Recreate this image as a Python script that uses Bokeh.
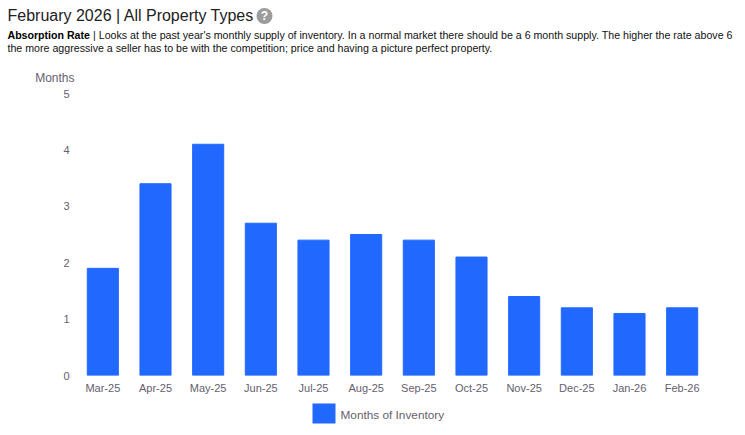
from bokeh.plotting import figure
from bokeh.layouts import column
from bokeh.models import Range1d, FactorRange
from bokeh.core.properties import value
from bokeh.embed import file_html
from bokeh.resources import INLINE

categories = ["Mar-25","Apr-25","May-25","Jun-25","Jul-25","Aug-25","Sep-25","Oct-25","Nov-25","Dec-25","Jan-26","Feb-26"]
months_of_inventory = [1.9,3.4,4.1,2.7,2.4,2.5,2.4,2.1,1.4,1.2,1.1,1.2]
y_ticks = [0,1,2,3,4,5]
series_name = "Months of Inventory"
title = "February 2026 | All Property Types"
bold_lead = "Absorption Rate"
line1 = "| Looks at the past year's monthly supply of inventory. In a normal market there should be a 6 month supply. The higher the rate above 6"
line2 = "the more aggressive a seller has to be with the competition; price and having a picture perfect property."
y_title = "Months"

W = 745
HEAD_H, MAIN_H, FOOT_H = 86, 314, 35
FONT = "Liberation Sans"
TICK = "#65606e"
BLUE = "#2168ff"

def blank(h, y0):
    f = figure(width=W, height=h, output_backend="svg", toolbar_location=None,
               x_range=Range1d(0, W), y_range=Range1d(y0 + h, y0),
               x_axis_type=None, y_axis_type=None, frame_align=False,
               min_border=0, min_border_left=0, min_border_right=0, min_border_top=0, min_border_bottom=0)
    f.outline_line_color = None
    f.grid.visible = False
    return f

def txt(f, x, y, s, size, color, style="normal", align="left"):
    f.text(x=[x], y=[y], text=[s], text_font=value(FONT), text_font_size=size, text_color=color,
           text_font_style=style, text_baseline="middle", text_align=align)

head = blank(HEAD_H, 0)
txt(head, 7, 15, title, "16px", "#222222")
head.scatter(x=[264], y=[15.5], size=16, color="#9c9c9c", line_color=None)
txt(head, 264, 15.5, "?", "12px", "#ffffff", "bold", "center")
txt(head, 7, 34, bold_lead, "10.6px", "#000000", "bold")
txt(head, 92.5, 34, line1, "10.65px", "#111111")
txt(head, 7, 47, line2, "10.65px", "#111111")
txt(head, 74, 77.5, y_title, "12px", TICK, align="right")

p = figure(width=W, height=MAIN_H, output_backend="svg", toolbar_location=None,
           x_range=FactorRange(factors=categories, range_padding=0),
           y_range=Range1d(0, 5), frame_align=False,
           min_border_left=76, min_border_right=37, min_border_top=7, min_border_bottom=25)
p.outline_line_color = None
p.grid.visible = False
p.vbar(x=categories, top=months_of_inventory, width=0.59, color=BLUE)
for ax in (p.xaxis[0], p.yaxis[0]):
    ax.axis_line_color = None
    ax.major_tick_line_color = None
    ax.minor_tick_line_color = None
    ax.major_label_text_font = FONT
    ax.major_label_text_font_size = "11px"
    ax.major_label_text_color = TICK
p.yaxis[0].ticker = y_ticks
p.yaxis[0].major_label_standoff = 1
p.xaxis[0].major_label_standoff = 0

foot = blank(FOOT_H, 400)
foot.quad(left=[312], right=[335], top=[403], bottom=[423], color=BLUE, line_color=None)
txt(foot, 340, 414, series_name, "11.8px", TICK)

page = column(head, p, foot, spacing=0)
open("out.html", "w").write(file_html(page, INLINE))
